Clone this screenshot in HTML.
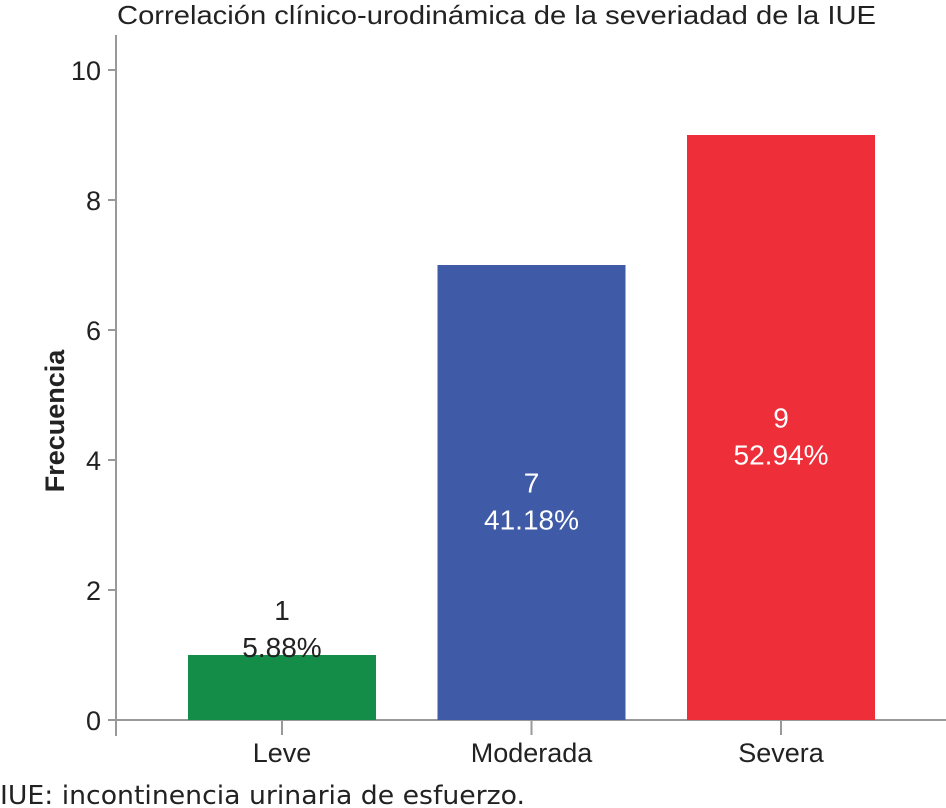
<!DOCTYPE html>
<html><head><meta charset="utf-8"><style>
body{margin:0;background:#fff;}
svg{display:block;font-family:"Liberation Sans",sans-serif;}
</style></head><body>
<svg id="c" width="946" height="808">
<text x="117" y="24" textLength="759" lengthAdjust="spacingAndGlyphs" font-size="26" fill="#222">Correlación clínico-urodinámica de la severiadad de la IUE</text>
<text transform="translate(64,421) rotate(-90)" text-anchor="middle" font-size="27" font-weight="bold" fill="#222">Frecuencia</text>
<text x="0" y="804" textLength="525" lengthAdjust="spacingAndGlyphs" font-size="26" fill="#222" font-family="'DejaVu Sans',sans-serif">IUE: incontinencia urinaria de esfuerzo.</text>
<g id="g"></g>
</svg>
<script>
const categories=["Leve","Moderada","Severa"];
const values=[1,7,9];
const percents=["5.88%","41.18%","52.94%"];
const colors=["#138d48","#3f5aa6","#ee2f3a"];
const yTicks=[0,2,4,6,8,10];
const NS="http://www.w3.org/2000/svg";
const g=document.getElementById("g");
const y=v=>720-v*65.0;
const xc=i=>282+i*249.5;
function mk(t,a,txt){const e=document.createElementNS(NS,t);for(const k in a)e.setAttribute(k,a[k]);if(txt!=null)e.textContent=txt;g.appendChild(e);return e;}
let e=mk("line",{x1:116,y1:35,x2:116,y2:736,stroke:"#999","stroke-width":2});


e=mk("line",{x1:108,y1:720,x2:946,y2:720,stroke:"#999","stroke-width":2});


yTicks.forEach(t=>{
 e=mk("line",{x1:108,y1:y(t),x2:116,y2:y(t),stroke:"#999","stroke-width":2});
 
 
 e=mk("text",{x:101,y:y(t)+10,"text-anchor":"end","font-size":27,fill:"#222"},t);
 
 
});
categories.forEach((c,i)=>{
 const x=xc(i);
 e=mk("rect",{x:x-94,y:y(values[i]),width:188,height:720-y(values[i]),fill:colors[i]});
 
 
 e=mk("line",{x1:x,y1:720,x2:x,y2:735,stroke:"#999","stroke-width":2});
 
 
 e=mk("text",{x:x,y:762,"text-anchor":"middle","font-size":27,fill:"#222"},c);
 
 
 const inside=values[i]>=3;
 const ly=inside?(y(values[i])+720)/2:y(values[i])-35;
 const fc=inside?"#fff":"#222";
 e=mk("text",{x:x,y:ly,"text-anchor":"middle","font-size":28,fill:fc},values[i]);
 
 
 e=mk("text",{x:x,y:ly+37,"text-anchor":"middle","font-size":28,fill:fc},percents[i]);
 
 
});
</script>
</body></html>
